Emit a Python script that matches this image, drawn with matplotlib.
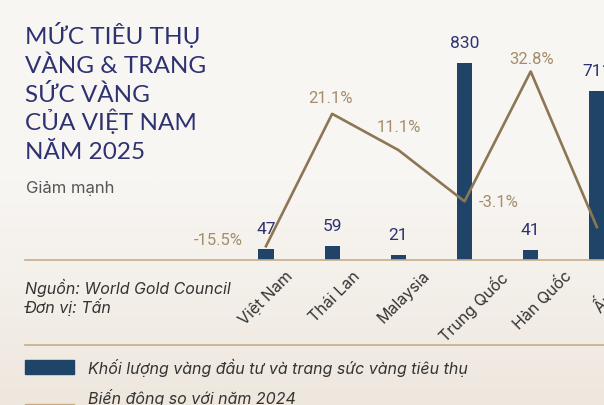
import matplotlib
matplotlib.use('Agg')
import matplotlib.pyplot as plt
import numpy as np
from matplotlib.patches import Rectangle
from matplotlib.lines import Line2D

# data
countries = ['Việt Nam', 'Thái Lan', 'Malaysia', 'Trung Quốc', 'Hàn Quốc', 'Ấn Độ']
volume = [47, 59, 21, 830, 41, 711]              # tấn
change = [-15.5, 21.1, 11.1, -3.1, 32.8, -10.2]  # % so với 2024
change_labels = ['-15.5%', '21.1%', '11.1%', '-3.1%', '32.8%', '-10.2%']

title_lines = ['MỨC TIÊU THỤ', 'VÀNG & TRANG', 'SỨC VÀNG', 'CỦA VIỆT NAM', 'NĂM 2025']

W, H = 604, 405
navy = '#1f4468'
navy_txt = '#2e3270'
gold = '#8c7654'
gold_txt = '#a38d6b'
tan = '#c9aa80'
rule = '#c4ad8a'
sans = 'Roboto'
body = 'Inter'

fig = plt.figure(figsize=(W / 100, H / 100), dpi=100)

def fx(x):
    return x / W

def fy(y):
    return 1 - y / H

# background gradient
bg = fig.add_axes([0, 0, 1, 1], zorder=-10)
top = np.array([248, 246, 243]) / 255
bot = np.array([238, 231, 222]) / 255
t = np.linspace(0, 1, 200)[:, None]
t = np.clip((t - 0.45) / 0.55, 0, 1)
grad = top + (bot - top) * t[..., None]
grad = np.repeat(grad, 2, axis=1)
bg.imshow(grad, aspect='auto', extent=[0, 1, 0, 1])
bg.axis('off')

# main axes
x = np.arange(len(countries))
ax = fig.add_axes([fx(25), fy(260), 605 / W, 220 / H])
ax.set_facecolor('none')
ax.bar(x, volume, width=0.23, color=navy, zorder=2)
ax.set_xlim(-3.64, 5.5)
ax.set_ylim(0, 928)
for xi, v in zip(x, volume):
    ax.annotate(str(v), (xi, v), xytext=(0, 12), textcoords='offset pixels',
                ha='center', va='bottom', fontsize=12.5, color=navy_txt,
                family=sans, annotation_clip=False)

ax2 = ax.twinx()
ax2.plot(x, change, color=gold, lw=1.9, zorder=3)
ax2.set_ylim(-19.3, 41.5)
offsets = [(-48, 6), (-2, 15), (0, 23), (34, -1), (1, 12), (36, 0)]
for xi, v, lab, off in zip(x, change, change_labels, offsets):
    ax2.annotate(lab, (xi, v), xytext=off, textcoords='offset pixels',
                 ha='center', va='center', fontsize=12, color=gold_txt,
                 family=sans, annotation_clip=False)

for a in (ax, ax2):
    for s in ['top', 'right', 'left']:
        a.spines[s].set_visible(False)
    a.set_yticks([])
ax2.spines['bottom'].set_visible(False)
ax.spines['bottom'].set_color(rule)
ax.spines['bottom'].set_linewidth(1.2)
# labels sit on a slightly wider spacing than the bars
ax.set_xticks(x * 1.045)
ax.set_xticklabels(countries, rotation=45, ha='center', fontsize=11.5,
                   color='#333333', family=body)
ax.tick_params(axis='x', length=0, pad=6)

# title block
for i, line in enumerate(title_lines):
    fig.text(fx(25), fy(44.5 + 28.6 * i), line, fontsize=17.5, color=navy_txt,
             family='Lato', fontweight='normal', va='baseline', ha='left')
fig.text(fx(26), fy(193), 'Giảm mạnh', fontsize=12, color='#555555',
         family=body, va='baseline')

fig.text(fx(25), fy(294), 'Nguồn: World Gold Council', fontsize=11.5,
         style='italic', color='#333333', family=body, va='baseline')
fig.text(fx(25), fy(313), 'Đơn vị: Tấn', fontsize=11.5,
         style='italic', color='#333333', family=body, va='baseline')

# separator
fig.add_artist(Line2D([fx(25), 1], [fy(345), fy(345)], color=rule, lw=1.2))

# legend
fig.add_artist(Rectangle((fx(25), fy(374)), 49 / W, 14 / H, color=navy))
fig.add_artist(Rectangle((fx(25), fy(418)), 49 / W, 14 / H, color=tan))
fig.text(fx(88), fy(368), 'Khối lượng vàng đầu tư và trang sức vàng tiêu thụ',
         fontsize=11.5, style='italic', color='#333333', family=body, va='center')
fig.text(fx(88), fy(398), 'Biến động so với năm 2024',
         fontsize=11.5, style='italic', color='#333333', family=body, va='center')

fig.savefig('out.png', dpi=100)
